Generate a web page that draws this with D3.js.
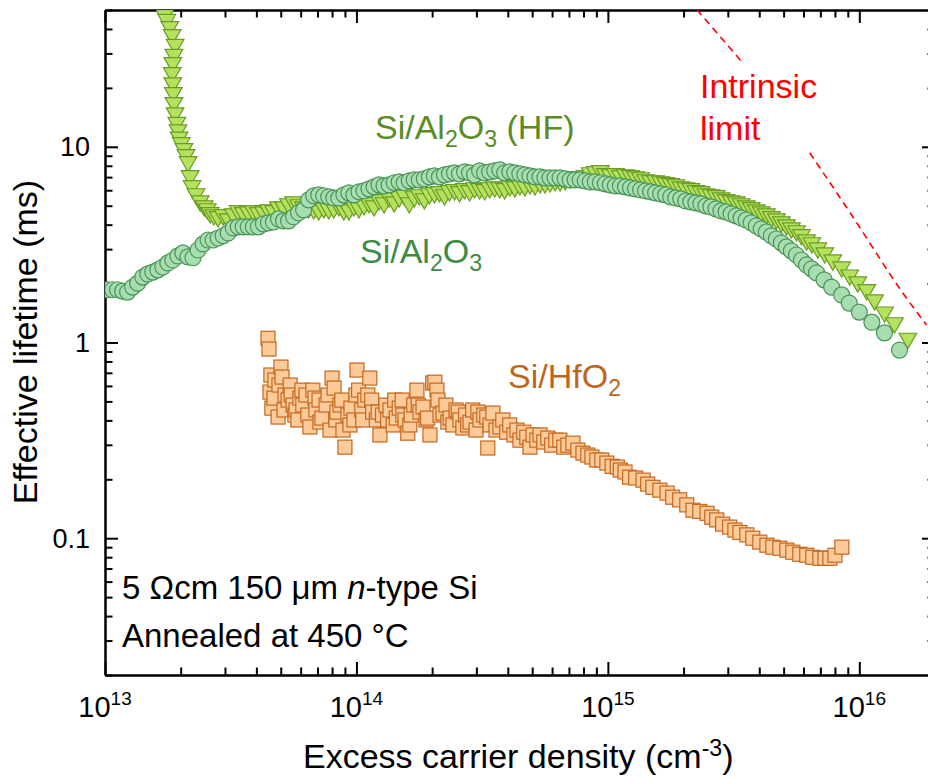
<!DOCTYPE html>
<html>
<head>
<meta charset="utf-8">
<script src="https://cdn.jsdelivr.net/npm/d3@7"></script>
<style>
  body { margin: 0; background: #fff; }
  text { font-family: "Liberation Sans", Arial, sans-serif; }
</style>
</head>
<body>
<div id="chart"></div>
<script>
// excess carrier density (cm^-3), effective lifetime (ms)
var al2o3 = [
  [1.023e13,1.86],[1.072e13,1.86],[1.122e13,1.86],[1.175e13,1.83],[1.230e13,1.81],[1.288e13,1.92],[1.349e13,2.01],[1.413e13,2.16],[1.479e13,2.24],[1.549e13,2.29],
  [1.622e13,2.35],[1.698e13,2.43],[1.778e13,2.55],[1.862e13,2.64],[1.950e13,2.77],[2.042e13,2.87],[2.138e13,2.74],[2.239e13,2.71],[2.344e13,2.97],[2.455e13,3.19],
  [2.570e13,3.34],[2.692e13,3.34],[2.818e13,3.42],[2.951e13,3.51],[3.090e13,3.63],[3.236e13,3.85],[3.388e13,3.90],[3.548e13,3.90],[3.715e13,3.90],[3.890e13,3.90],
  [4.074e13,3.90],[4.266e13,4.04],[4.467e13,4.09],[4.677e13,4.13],[4.898e13,4.28],[5.129e13,4.18],[5.370e13,4.18],[5.623e13,4.39],[5.888e13,4.60],[6.166e13,4.76],
  [6.457e13,5.36],[6.761e13,5.62],[7.079e13,5.68],[7.413e13,5.62],[7.762e13,5.55],[8.128e13,5.48],[8.511e13,5.48],[8.913e13,5.68],[9.333e13,5.82],[9.772e13,5.68],
  [1.023e14,5.89],[1.072e14,5.96],[1.122e14,6.10],[1.175e14,6.24],[1.230e14,6.39],[1.288e14,6.32],[1.349e14,6.39],[1.413e14,6.55],[1.479e14,6.62],[1.549e14,6.55],
  [1.622e14,6.70],[1.698e14,6.78],[1.778e14,6.78],[1.862e14,6.86],[1.950e14,7.02],[2.042e14,7.11],[2.138e14,7.02],[2.239e14,7.19],[2.344e14,7.28],[2.455e14,7.36],
  [2.570e14,7.28],[2.692e14,7.45],[2.818e14,7.36],[2.951e14,7.19],[3.090e14,7.54],[3.236e14,7.36],[3.388e14,7.45],[3.548e14,7.54],[3.715e14,7.63],[3.890e14,7.36],
  [4.074e14,7.45],[4.266e14,7.36],[4.467e14,7.28],[4.677e14,7.19],[4.898e14,7.11],[5.129e14,7.02],[5.370e14,7.02],[5.623e14,6.94],[5.888e14,6.94],[6.166e14,6.94],
  [6.457e14,6.94],[6.761e14,6.86],[7.079e14,6.78],[7.413e14,6.78],[7.762e14,6.78],[8.128e14,6.70],[8.511e14,6.62],[8.913e14,6.62],[9.333e14,6.55],[9.772e14,6.47],
  [1.023e15,6.39],[1.072e15,6.32],[1.122e15,6.32],[1.175e15,6.24],[1.230e15,6.17],[1.288e15,6.10],[1.349e15,6.03],[1.413e15,5.96],[1.479e15,5.89],[1.549e15,5.82],
  [1.622e15,5.75],[1.698e15,5.68],[1.778e15,5.55],[1.862e15,5.48],[1.950e15,5.42],[2.042e15,5.29],[2.138e15,5.23],[2.239e15,5.17],[2.344e15,5.11],[2.455e15,4.99],
  [2.570e15,4.93],[2.692e15,4.82],[2.818e15,4.71],[2.951e15,4.65],[3.090e15,4.54],[3.236e15,4.44],[3.388e15,4.33],[3.548e15,4.23],[3.715e15,4.09],[3.890e15,3.94],
  [4.074e15,3.81],[4.266e15,3.67],[4.467e15,3.51],[4.677e15,3.38],[4.898e15,3.23],[5.129e15,3.08],[5.370e15,2.94],[5.623e15,2.80],[5.888e15,2.64],[6.166e15,2.49],
  [6.457e15,2.38],[6.761e15,2.27],[7.244e15,2.09],[7.762e15,1.92],[8.511e15,1.75],[9.120e15,1.59],[1.000e16,1.43],[1.122e16,1.27],[1.259e16,1.12],[1.445e16,0.915]
];

var hfAl2o3 = [
  [1.73e13,47.3],[1.76e13,44.7],[1.81e13,41.1],[1.85e13,37.4],[1.90e13,33.3],[1.88e13,29.6],[1.86e13,26.9],[1.85e13,23.9],[1.86e13,21.2],[1.87e13,18.9],
  [1.88e13,16.8],[1.90e13,14.9],[1.93e13,13.3],[1.95e13,12.2],[1.97e13,11.2],[2.01e13,10.5],[2.06e13,9.77],[2.10e13,9.10],[2.14e13,8.38],[2.18e13,7.11],
  [2.22e13,6.32],[2.30e13,5.75],[2.39e13,5.29],[2.48e13,4.99],[2.55e13,4.82],[2.62e13,4.60],[2.71e13,4.49],
  [2.818e13,4.39],[2.951e13,4.49],[3.090e13,4.28],[3.236e13,4.54],[3.388e13,4.71],[3.548e13,4.60],[3.715e13,4.65],[3.890e13,4.71],[4.074e13,4.60],[4.266e13,4.65],
  [4.467e13,4.76],[4.677e13,4.71],[4.898e13,4.93],[5.129e13,4.93],[5.370e13,5.11],[5.623e13,5.23],[5.888e13,5.05],[6.166e13,4.93],[6.457e13,4.88],[6.761e13,4.82],
  [7.079e13,4.76],[7.413e13,4.88],[7.762e13,4.82],[8.128e13,4.88],[8.511e13,4.99],[8.913e13,4.76],[9.333e13,4.76],[9.772e13,4.99],
  [1.023e14,4.88],[1.072e14,5.05],[1.122e14,5.17],[1.175e14,4.99],[1.230e14,5.36],[1.288e14,5.17],[1.349e14,5.55],[1.413e14,5.23],[1.479e14,5.55],[1.549e14,5.68],
  [1.622e14,5.17],[1.698e14,5.55],[1.778e14,5.68],[1.862e14,5.42],[1.950e14,5.75],[2.042e14,5.82],[2.138e14,5.89],[2.239e14,5.68],[2.344e14,5.96],[2.455e14,6.03],
  [2.570e14,5.89],[2.692e14,6.10],[2.818e14,5.96],[2.951e14,6.17],[3.090e14,6.10],[3.236e14,6.03],[3.388e14,6.17],[3.548e14,6.24],[3.715e14,6.17],[3.890e14,6.10],
  [4.074e14,6.32],[4.266e14,6.24],[4.467e14,6.39],[4.677e14,6.32],[4.898e14,6.47],[5.129e14,6.39],[5.370e14,6.55],[5.623e14,6.55],[5.888e14,6.62],[6.166e14,6.70],
  [6.457e14,6.70],[6.761e14,6.78],[7.079e14,6.94],[7.413e14,7.02],[7.762e14,7.02],[8.128e14,7.11],[8.511e14,7.36],[8.913e14,7.45],[9.333e14,7.54],[9.772e14,7.28],
  [1.023e15,7.19],[1.072e15,7.28],[1.122e15,7.11],[1.175e15,7.19],[1.230e15,7.11],[1.288e15,7.02],[1.349e15,6.94],[1.413e15,6.78],[1.479e15,6.70],[1.549e15,6.70],
  [1.622e15,6.62],[1.698e15,6.55],[1.778e15,6.47],[1.862e15,6.39],[1.950e15,6.24],[2.042e15,6.17],[2.138e15,6.10],[2.239e15,5.96],[2.344e15,5.89],[2.455e15,5.75],
  [2.570e15,5.68],[2.692e15,5.62],[2.818e15,5.48],[2.951e15,5.36],[3.090e15,5.29],[3.236e15,5.23],[3.388e15,5.11],[3.548e15,4.99],[3.715e15,4.88],[3.890e15,4.76],
  [4.074e15,4.65],[4.266e15,4.54],[4.467e15,4.39],[4.677e15,4.28],[4.898e15,4.13],[5.129e15,3.99],[5.370e15,3.85],[5.623e15,3.72],[5.888e15,3.55],[6.166e15,3.34],
  [6.47e15,3.23],[6.84e15,3.04],[7.29e15,2.87],[7.84e15,2.64],[8.51e15,2.43],[9.16e15,2.21],[9.86e15,2.04],[1.07e16,1.86],[1.15e16,1.65],[1.26e16,1.43],
  [1.38e16,1.26],[1.56e16,1.05]
];

var hfo2 = [
  [4.45e13,1.05],[4.49e13,0.926],[4.53e13,0.558],[4.57e13,0.682],[4.61e13,0.462],[4.70e13,0.520],[4.74e13,0.643],[4.88e13,0.416],[4.92e13,0.606],[5.01e13,0.749],
  [5.06e13,0.666],[5.15e13,0.452],[5.20e13,0.539],[5.35e13,0.508],[5.45e13,0.606],[5.50e13,0.539],[5.60e13,0.479],[5.69e13,0.426],[5.75e13,0.452],[5.85e13,0.402],
  [5.96e13,0.520],[6.07e13,0.571],[6.12e13,0.479],[6.30e13,0.539],[6.41e13,0.426],[6.53e13,0.370],[6.71e13,0.571],[6.84e13,0.520],[6.90e13,0.452],[7.10e13,0.508],
  [7.16e13,0.392],[7.29e13,0.411],[7.57e13,0.479],[7.71e13,0.539],[7.85e13,0.357],[8.00e13,0.658],[8.15e13,0.585],[8.28e13,0.402],[8.36e13,0.441],[8.60e13,0.479],
  [8.75e13,0.508],[8.84e13,0.357],[9.00e13,0.292],[9.25e13,0.426],[9.42e13,0.379],[9.51e13,0.462],[9.78e13,0.402],[9.95e13,0.539],[1.005e14,0.723],[1.02e14,0.571],
  [1.05e14,0.452],[1.06e14,0.402],[1.08e14,0.508],[1.11e14,0.539],[1.13e14,0.658],[1.15e14,0.508],[1.16e14,0.441],[1.20e14,0.402],[1.22e14,0.441],[1.24e14,0.337],
  [1.27e14,0.426],[1.31e14,0.479],[1.33e14,0.402],[1.36e14,0.452],[1.40e14,0.379],[1.42e14,0.508],[1.44e14,0.411],[1.48e14,0.462],[1.52e14,0.508],[1.53e14,0.426],
  [1.56e14,0.402],[1.60e14,0.344],[1.63e14,0.379],[1.65e14,0.426],[1.69e14,0.479],[1.74e14,0.571],[1.76e14,0.479],[1.79e14,0.441],[1.84e14,0.468],[1.89e14,0.402],
  [1.92e14,0.411],[1.96e14,0.337],[2.01e14,0.621],[2.05e14,0.627],[2.09e14,0.571],[2.11e14,0.508],[2.15e14,0.426],[2.21e14,0.436],[2.27e14,0.479],[2.31e14,0.392],
  [2.36e14,0.411],[2.42e14,0.379],[2.49e14,0.452],[2.54e14,0.441],[2.58e14,0.402],[2.65e14,0.366],[2.72e14,0.426],[2.77e14,0.379],[2.83e14,0.392],[2.90e14,0.452],
  [2.99e14,0.357],[3.04e14,0.441],[3.10e14,0.402],[3.21e14,0.426],[3.30e14,0.416],[3.33e14,0.289],[3.40e14,0.379],[3.49e14,0.436],
  [3.59e14,0.357],[3.72e14,0.370],[3.82e14,0.402],[3.96e14,0.348],[4.07e14,0.379],[4.23e14,0.337],[4.35e14,0.357],[4.47e14,0.317],[4.63e14,0.348],[4.76e14,0.328],
  [4.90e14,0.292],[5.04e14,0.337],[5.22e14,0.317],[5.37e14,0.337],[5.56e14,0.310],[5.77e14,0.325],[5.98e14,0.299],[6.21e14,0.317],[6.44e14,0.317],[6.68e14,0.292],
  [6.93e14,0.299],[7.26e14,0.306],[7.60e14,0.282],[7.96e14,0.272],[8.32e14,0.266],[8.64e14,0.260],[9.04e14,0.251],[9.46e14,0.251],[9.91e14,0.242],[1.04e15,0.233],
  [1.09e15,0.231],[1.12e15,0.223],[1.17e15,0.218],[1.22e15,0.205],[1.29e15,0.203],[1.38e15,0.198],[1.44e15,0.189],[1.51e15,0.182],[1.61e15,0.176],[1.72e15,0.170],
  [1.81e15,0.162],[1.93e15,0.157],[2.06e15,0.148],[2.18e15,0.139],[2.32e15,0.137],[2.48e15,0.134],[2.59e15,0.128],[2.71e15,0.124],[2.86e15,0.118],[3.05e15,0.114],
  [3.20e15,0.110],[3.35e15,0.107],[3.57e15,0.104],[3.77e15,0.100],[4.02e15,0.0955],[4.29e15,0.0921],[4.53e15,0.0900],[4.83e15,0.0889],[5.15e15,0.0869],[5.44e15,0.0848],
  [5.80e15,0.0828],[6.18e15,0.0818],[6.53e15,0.0799],[6.97e15,0.0790],[7.30e15,0.0790],[7.64e15,0.0790],[8.00e15,0.0818],[8.52e15,0.0900]
];

// dashed intrinsic limit, broken where its label sits
var intrinsicLimit = [[2.26e15,50.2],[3.41e15,27.2],null,[6.35e15,9.32],[9.42e15,4.39],[1.49e16,1.79],[1.85e16,1.23]];

var xMajorTicks = [1e13, 1e14, 1e15, 1e16];
var xTickExponents = ["13", "14", "15", "16"];
var yMajorTicks = [0.1, 1, 10];
var yTickLabels = ["0.1", "1", "10"];

var width = 928,
    height = 782;
var padLeft = 105, padRight = 935, padTop = 10, padBottom = 675;

var x = d3.scaleLog().domain([1e13, 2e16]).range([padLeft, padRight]);
var y = d3.scaleLog().domain([0.02, 50]).range([padBottom, padTop]);

var svg = d3.select("#chart").append("svg")
    .attr("width", width)
    .attr("height", height);

svg.append("clipPath").attr("id", "plot")
  .append("rect")
    .attr("x", padLeft).attr("y", padTop)
    .attr("width", padRight - padLeft).attr("height", padBottom - padTop);

var isDecade = function(v){
  var l = Math.log10(v);
  return Math.abs(l - Math.round(l)) < 1e-6;
}

var xMinor = x.ticks().filter(function(d){ return !isDecade(d); });
var yMinor = y.ticks().filter(function(d){ return !isDecade(d); });

// all four sides, ticks pointing inward
var drawAxis = function(axis, tx, ty){
  var g = svg.append("g")
      .attr("transform", "translate(" + tx + "," + ty + ")")
      .call(axis.tickSizeOuter(0).tickFormat(""));
  g.selectAll("path, line").attr("stroke", "#000").attr("stroke-width", 2);
  return g;
}

drawAxis(d3.axisBottom(x).tickValues(xMajorTicks).tickSizeInner(-13), 0, padBottom);
drawAxis(d3.axisBottom(x).tickValues(xMinor).tickSizeInner(-7.5), 0, padBottom);
drawAxis(d3.axisTop(x).tickValues(xMajorTicks).tickSizeInner(-13), 0, padTop);
drawAxis(d3.axisTop(x).tickValues(xMinor).tickSizeInner(-7.5), 0, padTop);
drawAxis(d3.axisLeft(y).tickValues(yMajorTicks).tickSizeInner(-13), padLeft, 0);
drawAxis(d3.axisLeft(y).tickValues(yMinor).tickSizeInner(-7.5), padLeft, 0);
drawAxis(d3.axisRight(y).tickValues(yMajorTicks).tickSizeInner(-13), padRight, 0);
drawAxis(d3.axisRight(y).tickValues(yMinor).tickSizeInner(-7.5), padRight, 0);

// tick labels
svg.selectAll(".xlab").data(xMajorTicks).enter().append("text")
    .attr("class", "xlab")
    .attr("x", function(d){ return x(d); })
    .attr("y", 717)
    .attr("text-anchor", "middle")
    .attr("font-size", 29)
    .each(function(d, i){
      var t = d3.select(this);
      t.append("tspan").text("10");
      t.append("tspan").attr("dy", -12).attr("font-size", 19).text(xTickExponents[i]);
    });

svg.selectAll(".ylab").data(yMajorTicks).enter().append("text")
    .attr("class", "ylab")
    .attr("x", 90)
    .attr("y", function(d){ return y(d); })
    .attr("dy", "0.35em")
    .attr("text-anchor", "end")
    .attr("font-size", 27)
    .text(function(d, i){ return yTickLabels[i]; });

// text with sub/superscripts and italics
var richText = function(px, py, size, color, parts){
  var t = svg.append("text").attr("x", px).attr("y", py)
      .attr("font-size", size).attr("fill", color);
  var shift = 0;
  parts.forEach(function(p){
    var s = t.append("tspan").text(p[0]);
    var want = p[1] == "sub" ? size * 0.24 : p[1] == "sup" ? -size * 0.36 : 0;
    if (want != shift) { s.attr("dy", want - shift); shift = want; }
    if (p[1] == "sub" || p[1] == "sup") s.attr("font-size", size * 0.68);
    if (p[1] == "i") s.attr("font-style", "italic");
  });
  return t;
}

richText(303, 768, 34, "#000", [["Excess carrier density (cm"], ["-3", "sup"], [")"]]);

svg.append("text")
    .attr("transform", "translate(37,342) rotate(-90)")
    .attr("text-anchor", "middle")
    .attr("font-size", 34)
    .text("Effective lifetime (ms)");

// data
var plot = svg.append("g").attr("clip-path", "url(#plot)");

plot.append("path")
    .datum(intrinsicLimit)
    .attr("fill", "none")
    .attr("stroke", "#ff0000")
    .attr("stroke-width", 1.6)
    .attr("stroke-dasharray", "7,5")
    .attr("d", d3.line()
      .defined(function(d){ return d; })
      .x(function(d){ return x(d[0]); })
      .y(function(d){ return y(d[1]); })
      .curve(d3.curveMonotoneX));

var tri = d3.symbol().type(d3.symbolTriangle).size(135);

plot.selectAll(".hf").data(hfAl2o3).enter().append("path")
    .attr("class", "hf")
    .attr("d", tri)
    .attr("transform", function(d){ return "translate(" + x(d[0]) + "," + y(d[1]) + ") rotate(180)"; })
    .attr("fill", "#b4e25f")
    .attr("stroke", "#6a9b22")
    .attr("stroke-width", 1.2);

plot.selectAll(".al").data(al2o3).enter().append("circle")
    .attr("class", "al")
    .attr("cx", function(d){ return x(d[0]); })
    .attr("cy", function(d){ return y(d[1]); })
    .attr("r", 8)
    .attr("fill", "#a8dcb1")
    .attr("stroke", "#4a9456")
    .attr("stroke-width", 1.2);

plot.selectAll(".hfo").data(hfo2).enter().append("rect")
    .attr("class", "hfo")
    .attr("x", function(d){ return x(d[0]) - 7; })
    .attr("y", function(d){ return y(d[1]) - 7; })
    .attr("width", 14)
    .attr("height", 14)
    .attr("fill", "#fdca9a")
    .attr("stroke", "#c5671d")
    .attr("stroke-width", 1.2);

// labels
richText(375, 139, 34, "#5a8c22", [["Si/Al"], ["2", "sub"], ["O"], ["3", "sub"], [" (HF)"]]);
richText(360, 263, 34, "#3d8b47", [["Si/Al"], ["2", "sub"], ["O"], ["3", "sub"]]);
richText(508, 388, 34, "#c0651a", [["Si/HfO"], ["2", "sub"]]);
richText(700, 98, 34, "#ff0000", [["Intrinsic"]]);
richText(700, 140, 34, "#ff0000", [["limit"]]);
richText(122, 599, 33, "#000", [["5 \u03a9cm 150 \u03bcm "], ["n", "i"], ["-type Si"]]);
richText(122, 647, 33, "#000", [["Annealed at 450 \u00b0C"]]);
</script>
</body>
</html>
